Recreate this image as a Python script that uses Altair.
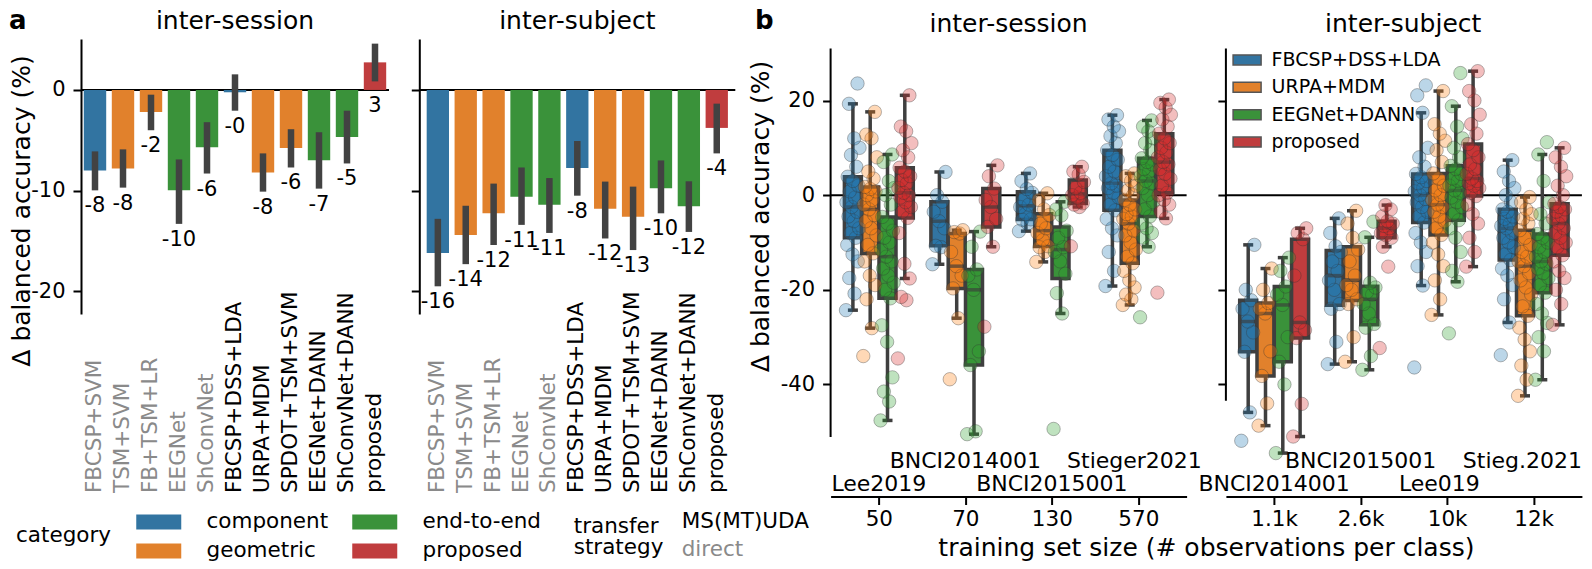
import json
import altair as alt
import pandas as pd

FONT = "DejaVu Sans"
GRAY = "#3f3f3f"

# ---------------- panel a data ----------------
a_methods = ["FBCSP+SVM", "TSM+SVM", "FB+TSM+LR", "EEGNet", "ShConvNet",
             "FBCSP+DSS+LDA", "URPA+MDM", "SPDOT+TSM+SVM", "EEGNet+DANN",
             "ShConvNet+DANN", "proposed"]
a_category = ["component", "geometric", "geometric", "end-to-end", "end-to-end",
              "component", "geometric", "geometric", "end-to-end", "end-to-end",
              "proposed"]
a_strategy = ["direct"] * 5 + ["MS(MT)UDA"] * 6

ses_mean = [-8.0, -7.8, -2.2, -9.95, -5.7, -0.23, -8.2, -5.76, -6.97, -4.67, 2.74]
ses_lo = [-9.97, -9.7, -4.0, -13.3, -8.3, -2.06, -10.1, -7.7, -9.8, -7.3, 0.85]
ses_hi = [-6.1, -5.9, -0.47, -6.9, -3.2, 1.55, -6.3, -3.9, -4.2, -2.06, 4.6]
sub_mean = [-16.2, -14.4, -12.25, -10.6, -11.4, -7.75, -11.8, -12.6, -9.77, -11.55, -3.77]
sub_lo = [-19.5, -17.3, -15.4, -13.4, -14.2, -10.5, -14.75, -15.9, -12.25, -14.1, -6.3]
sub_hi = [-12.8, -11.5, -9.3, -7.7, -8.75, -5.07, -9.1, -9.6, -7.0, -9.07, -1.36]

cat_domain = ["component", "geometric", "end-to-end", "proposed"]
cat_colors = ["#3274a1", "#e1812c", "#3a923a", "#c03d3e"]
strat_domain = ["MS(MT)UDA", "direct"]
strat_colors = ["black", "#8a8a8a"]

# ---------------- panel b data ----------------
b_methods = ["FBCSP+DSS+LDA", "URPA+MDM", "EEGNet+DANN", "proposed"]
b_muted = ["#3274a1", "#e1812c", "#3a923a", "#c03d3e"]
b_bright = ["#1f77b4", "#ff7f0e", "#2ca02c", "#d62728"]

ses_sizes = ["50", "70", "130", "570"]
ses_datasets = ["Lee2019", "BNCI2014001", "BNCI2015001", "Stieger2021"]
ses_label_shift = [0, 0, 0, -0.045]
sub_sizes = ["1.1k", "2.6k", "10k", "12k"]
sub_datasets = ["BNCI2014001", "BNCI2015001", "Lee019", "Stieg.2021"]
sub_label_shift = [0, 0, -0.09, -0.13]

# inter-session, one list per method (FBCSP+DSS+LDA, URPA+MDM, EEGNet+DANN, proposed)
ses_lee2019 = [
    [-24.3, -20.8, -17.5, -14, -12.5, -10.5, -9.0, -8, -7, -5.5, -4.5, -3.5, -2.5, -1.5, -0.5, 0.8, 2, 3, 3.9, 6, 8.5, 10, 12, 19.3, 23.6],
    [-34, -28.1, -22, -19, -17, -14, -12.3, -10.5, -8.5, -7, -5.5, -4.2, -3, -2, -1, 0, 0.8, 1.3, 1.75, 3.5, 5, 8, 12, 12.8, 17.6],
    [-47.6, -43.6, -41.5, -38.5, -31, -27.5, -21.8, -20, -18.5, -17, -15.5, -14, -13, -11.5, -10, -9, -7.5, -6, -4.6, -2, 0, 1.5, 3, 7, 8.6],
    [-34.5, -22.2, -21.5, -17.6, -14.5, -8, -4.8, -3.5, -2.5, -1.5, -0.5, 0, 0.5, 1.5, 2.5, 3.2, 4, 5, 5.8, 8, 9.5, 11, 13.5, 14.5, 21.1],
]
ses_bnci2014 = [
    [-14.6, -11, -10.7, -7, -5.5, -3.5, -1.4, 0, 4.9],
    [-38.9, -26, -19.7, -17, -15, -12, -8.1, -7.8, -7.4],
    [-50.5, -49.9, -35.9, -33, -20, -17, -15.7, -10.9, -7.7],
    [-27.8, -10.9, -6.7, -5, -2.5, -1, 1.4, 4, 6.3],
]
ses_bnci2015 = [
    [-7.6, -6, -5.2, -5.1, -4, -2.5, -2, -1, 0.5, 1.3, 3, 4.6],
    [-14.1, -12, -11, -10.8, -9.5, -8, -7, -6, -4.2, -3, -1, 0.4],
    [-49.4, -25, -20.7, -16.6, -14, -12, -11, -9, -7.5, -4.3, -3, -1.4],
    [-10.8, -2.5, -2, -1.7, -0.5, 0, 0.5, 1.5, 2.8, 4.4, 5, 6.0],
]
ses_stieger = [
    [-19.2, -16, -12, -8.5, -7, -5, -3.2, -2, -0.5, 0.5, 1.5, 2, 2.5, 4, 5, 6, 7.5, 8.5, 9.5, 11, 12.5, 13.5, 14.5, 16, 16.9],
    [-23.2, -22, -21, -19.5, -18, -16, -14.4, -13, -11.5, -10, -8.5, -7.5, -6, -5, -4.5, -4, -3, -2, -1, 0, 1, 2, 3, 4, 4.6],
    [-25.8, -10.9, -9, -8, -7, -6, -4.5, -3, -1.5, 0, 1.5, 2.5, 3, 4, 5, 5.5, 6.5, 7, 7.8, 9.5, 11, 12, 13.5, 14.5, 15.8],
    [-20.6, -4.9, -3.5, -2, -1, 0, 0.5, 2, 3.5, 4.5, 5.5, 6.5, 7, 8, 9, 10, 11, 12, 13, 14.5, 16, 17, 18.5, 19.5, 20.2],
]
# inter-subject
sub_bnci2014 = [
    [-51.9, -45.9, -33.1, -29, -26.7, -24, -22.2, -20, -10.5],
    [-48.7, -44, -38.2, -33, -25, -24, -22.8, -20, -15.5],
    [-54.5, -40, -35.2, -30, -23.2, -21, -19.3, -16, -13.2],
    [-51, -44.1, -30.2, -28.5, -26.9, -17, -9.3, -8, -7],
]
sub_bnci2015 = [
    [-35.7, -31, -24, -23, -20, -18, -16, -14, -12, -10.8, -8, -4.9],
    [-35.2, -30, -23, -22, -20, -19, -17, -14, -11.5, -9, -6, -3.3],
    [-36.9, -34, -28, -27.2, -25, -23, -21, -20.5, -19.5, -18.5, -8.9, -5.6],
    [-32.3, -15.1, -10.9, -9.0, -8.5, -8, -7, -6.5, -6, -5.5, -4.5, -3, -2.1],
]
sub_lee2019 = [
    [-36.4, -19.1, -15, -12, -10, -8, -5.8, -4.5, -3.5, -2.5, -1.5, -0.8, 0, 0.8, 1.5, 2.5, 3, 3.8, 4.5, 6, 8, 10, 17.4, 21.1, 23.2],
    [-25.3, -22, -18, -15, -12.5, -10, -8.4, -7, -5.5, -4.5, -3.5, -2.5, -2, -1, 0, 1, 2, 3.5, 4.6, 7, 9.5, 11.5, 13, 15, 22],
    [-29.2, -18.3, -16, -12, -9, -7, -5.3, -4, -2.5, -1.5, -0.5, 0.5, 1, 2, 3, 3.5, 4.5, 5.5, 6.2, 8, 10, 12, 14.5, 18.8, 25.8],
    [-15.1, -12, -9, -6, -4, -2, -0.2, 0.5, 1.5, 2, 2.5, 3, 3.5, 4.5, 5.5, 6.5, 8, 9.5, 10.8, 13, 15, 17, 20, 22, 26.2],
]
sub_stieger = [
    [-33.8, -26.9, -22, -19, -17, -15.5, -13.7, -12.5, -11, -10, -9, -8, -7, -6.5, -6, -5, -4.5, -3.5, -3, -1.5, 0, 1.5, 3, 5, 7.4],
    [-42.4, -39, -36, -33, -30.5, -28, -25.5, -23.5, -21, -19.5, -18, -16.5, -15, -14, -13, -12, -10.5, -9, -7.4, -6, -5, -4, -3, -1.5, -0.4],
    [-39, -33, -30, -27, -25, -23, -20.6, -19, -17.5, -16.5, -15.5, -14.5, -14, -13, -12, -11, -10, -9, -8.2, -6, -4, -1.5, 3, 8.6, 11.2],
    [-27.4, -23, -20, -17.5, -16, -14, -12.7, -11, -10, -9, -8, -7, -6, -5, -4.5, -3.5, -3, -2.5, -1.8, 0, 2, 4, 6, 8, 10],
]

zdf = pd.DataFrame({"z": [0]})
A_H = 275
B_H = 398
B_DOMAIN = [-51.1, 33.0]


def label_text(text, x, y, size, **kw):
    return alt.Chart(zdf).mark_text(text=text, fontSize=size, color=kw.pop("color", "black"), **kw).encode(
        x=alt.value(x), y=alt.value(y))


def panel_a(mean, lo, hi, plot_w, cell_w, pad_outer, title, title_x, first):
    d = pd.DataFrame({"method": a_methods, "category": a_category,
                      "strategy": a_strategy, "mean": mean, "lo": lo, "hi": hi,
                      "label": [f"{m:.0f}" for m in mean]})
    xs = alt.Scale(domain=a_methods, paddingInner=0.2, paddingOuter=pad_outer, rangeMax=plot_w)
    ys = alt.Scale(domain=[-22.25, 5.06], nice=False, zero=False)
    if first:
        yax = alt.Axis(values=[0, -10, -20], labelExpr="toString(datum.value)",
                       labelPadding=8, title="Δ balanced accuracy (%)",
                       titleX=-60, titleY=171.5, titleBaseline="middle", titleAngle=270)
    else:
        yax = alt.Axis(values=[0, -10, -20], labels=False, title=None)
    X = alt.X("method:N", scale=xs, axis=None)
    base = alt.Chart(d)
    if first:
        leg = alt.Legend(orient="none", legendX=-65, legendY=471.75, title="category",
                         titleOrient="left", columns=2, symbolType="M-3,-1H3V1H-3Z",
                         symbolSize=225, symbolOffset=15, labelOffset=37,
                         columnPadding=20, rowPadding=6.5, labelFontSize=21.5,
                         titleFontSize=21.5, titleFontWeight="normal", titlePadding=21,
                         titleAnchor="middle", titleBaseline="middle", labelLimit=0,
                         symbolStrokeWidth=0, labelColor="black", titleColor="black")
    else:
        leg = None
    zero = alt.Chart(zdf).mark_rule(color="black", strokeWidth=2).encode(
        y=alt.Y("z:Q", scale=ys, axis=yax), x=alt.value(0), x2=alt.value(plot_w))
    bars = base.mark_bar().encode(
        x=X, y=alt.Y("mean:Q", scale=ys, axis=yax), y2=alt.datum(0),
        color=alt.Color("category:N", scale=alt.Scale(domain=cat_domain, range=cat_colors), legend=leg))
    err = base.mark_rule(color="#424242", strokeWidth=6.5).encode(
        x=X, y=alt.Y("lo:Q", scale=ys, axis=yax), y2="hi:Q")
    vals = base.transform_calculate(ly="min(datum.lo, 0)").mark_text(
        baseline="top", dy=5, fontSize=21, color="black").encode(
        x=X, y=alt.Y("ly:Q", scale=ys, axis=yax), text="label:N")
    xl = base.mark_text(angle=270, align="left", baseline="middle", fontSize=21.5).encode(
        x=X, y=alt.value(454), text="method:N",
        fill=alt.Fill("strategy:N", scale=alt.Scale(domain=strat_domain, range=strat_colors), legend=None))
    ttl = label_text(title, title_x, -10, 25, align="center", baseline="alphabetic")
    layers = [zero, bars, err, vals, xl, ttl]
    if first:
        layers += [
            label_text("a", -72, -10, 26, fontWeight="bold", align="left", baseline="alphabetic"),
            label_text("transfer", 492.7, 487.5, 21.5, align="left", baseline="middle"),
            label_text("strategy", 492.7, 509.2, 21.5, align="left", baseline="middle"),
            label_text(strat_domain[0], 600.7, 482.5, 21.5, align="left", baseline="middle",
                       color=strat_colors[0]),
            label_text(strat_domain[1], 600.7, 510.5, 21.5, align="left", baseline="middle",
                       color=strat_colors[1]),
        ]
    return alt.layer(*layers).properties(width=cell_w, height=A_H)


def panel_b(groups, sizes, datasets, shifts, plot_w, cell_w, spine_end, title, title_x, first):
    rows = []
    for gi, grp in enumerate(groups):
        for mi, vals in enumerate(grp):
            for k, v in enumerate(vals):
                rows.append({"gi": gi, "mi": mi, "method": b_methods[mi], "v": v, "k": k})
    d = pd.DataFrame(rows)
    ddf = pd.DataFrame({"gi": list(range(4)), "dataset": datasets, "shift": shifts})
    xs = alt.Scale(domain=[-0.5, 3.5], nice=False, zero=False, rangeMax=plot_w)
    ys = alt.Scale(domain=B_DOMAIN, nice=False, zero=False)
    xax = alt.Axis(values=[0, 1, 2, 3], labelExpr=json.dumps(sizes) + "[datum.value]",
                   offset=59.5, labelPadding=4, labelFontSize=21.5,
                   title="training set size (# observations per class)" if first else None,
                   titleX=375.3, titlePadding=5, grid=False)
    if first:
        yax = alt.Axis(values=[20, 0, -20, -40], labelExpr="toString(datum.value)", labelPadding=8,
                       domain=False, title="Δ balanced accuracy (%)", titleX=-69.7, titleY=177,
                       titleBaseline="middle", titleAngle=270)
    else:
        yax = alt.Axis(values=[20, 0, -20, -40], labels=False, domain=False, title=None)

    base = alt.Chart(d)
    stats = base.transform_joinaggregate(
        q1="q1(v)", q3="q3(v)", med="median(v)", groupby=["gi", "mi"]
    ).transform_calculate(
        lof="datum.q1 - 1.5*(datum.q3 - datum.q1)", hif="datum.q3 + 1.5*(datum.q3 - datum.q1)"
    ).transform_filter(
        "datum.v >= datum.lof && datum.v <= datum.hif"
    ).transform_aggregate(
        wlo="min(v)", whi="max(v)", bq1="max(q1)", bq3="max(q3)", bmed="max(med)",
        groupby=["gi", "mi", "method"]
    ).transform_calculate(pos="datum.gi + (datum.mi - 1.5) * 0.2")
    PX = alt.X("pos:Q", scale=xs, axis=xax)

    if not first:
        leg = alt.Legend(orient="none", legendX=4.7, legendY=11.4, title=None,
                         symbolType="M-2,-0.714H2V0.714H-2Z", symbolSize=196, symbolOffset=7,
                         labelOffset=15, labelFontSize=19, rowPadding=7.4, labelLimit=0,
                         symbolStrokeColor="#555555", symbolStrokeWidth=1.5, labelColor="black")
    else:
        leg = None

    zero = alt.Chart(zdf).mark_rule(color="black", strokeWidth=2).encode(
        y=alt.Y("z:Q", scale=ys, axis=yax), x=alt.value(0), x2=alt.value(plot_w))
    spine = alt.Chart(zdf).mark_rule(color="black", strokeWidth=2).encode(
        x=alt.value(0), y=alt.value(9.5), y2=alt.value(spine_end))
    whisk = stats.mark_rule(color=GRAY, strokeWidth=3.5).encode(
        x=PX, y=alt.Y("wlo:Q", scale=ys, axis=yax), y2="whi:Q")
    box = stats.mark_bar(width=17, stroke=GRAY, strokeWidth=3.5, opacity=1).encode(
        x=PX, y=alt.Y("bq1:Q", scale=ys, axis=yax), y2="bq3:Q",
        color=alt.Color("method:N", scale=alt.Scale(domain=b_methods, range=b_muted), legend=leg))
    med = stats.mark_tick(orient="horizontal", size=17, thickness=3.5, color=GRAY, opacity=1).encode(
        x=PX, y=alt.Y("bmed:Q", scale=ys, axis=yax))
    cap_lo = stats.mark_tick(orient="horizontal", size=10, thickness=3.5, color=GRAY, opacity=1).encode(
        x=PX, y=alt.Y("wlo:Q", scale=ys, axis=yax))
    cap_hi = stats.mark_tick(orient="horizontal", size=10, thickness=3.5, color=GRAY, opacity=1).encode(
        x=PX, y=alt.Y("whi:Q", scale=ys, axis=yax))
    pts = base.transform_calculate(
        px="datum.gi + (datum.mi - 1.5) * 0.2 + ((datum.k * 0.618034) % 1 - 0.5) * 0.16"
    ).mark_circle(size=180, opacity=1, fillOpacity=0.3, stroke="#333333", strokeOpacity=0.35,
                  strokeWidth=1).encode(
        x=alt.X("px:Q", scale=xs, axis=xax), y=alt.Y("v:Q", scale=ys, axis=yax),
        fill=alt.Fill("method:N", scale=alt.Scale(domain=b_methods, range=b_bright), legend=None))
    lbl = alt.Chart(ddf).transform_calculate(lx="datum.gi + datum.shift")
    lab_lo = lbl.transform_filter("datum.gi % 2 == 0").mark_text(
        fontSize=22, baseline="middle", color="black").encode(
        x=alt.X("lx:Q", scale=xs, axis=xax), y=alt.value(444.5), text="dataset:N")
    lab_hi = lbl.transform_filter("datum.gi % 2 == 1").mark_text(
        fontSize=22, baseline="middle", color="black").encode(
        x=alt.X("lx:Q", scale=xs, axis=xax), y=alt.value(421.5), text="dataset:N")
    ttl = label_text(title, title_x, -6.8, 25, align="center", baseline="alphabetic")
    layers = [zero, spine, whisk, box, med, cap_lo, cap_hi, pts, lab_lo, lab_hi, ttl]
    if first:
        layers.append(label_text("b", -75.7, -10, 26, fontWeight="bold", align="left",
                                 baseline="alphabetic"))
    return alt.layer(*layers).properties(width=cell_w, height=B_H)


aL = panel_a(ses_mean, ses_lo, ses_hi, 308, 308, 0.1, "inter-session", 154, True)
aR = panel_a(sub_mean, sub_lo, sub_hi, 316, 380.4, 0.265, "inter-subject", 158, False)
bL = panel_b([ses_lee2019, ses_bnci2014, ses_bnci2015, ses_stieger], ses_sizes, ses_datasets,
             ses_label_shift, 356, 364.3, B_H, "inter-session", 178, True)
bR = panel_b([sub_bnci2014, sub_bnci2015, sub_lee2019, sub_stieger], sub_sizes, sub_datasets,
             sub_label_shift, 356, 356, 361.8, "inter-subject", 177.3, False)

chart = alt.hconcat(aL, aR, bL, bR, spacing=30.3, bounds="flush").resolve_scale(
    color="independent", fill="independent", x="independent", y="independent"
).properties(padding=0).configure(font=FONT).configure_view(stroke=None).configure_axis(
    domainColor="black", domainWidth=2, tickColor="black", tickWidth=2, tickSize=8,
    labelFontSize=21, labelColor="black", titleFontSize=25, titleFontWeight="normal",
    titleColor="black", grid=False, labelFont=FONT, titleFont=FONT
).configure_legend(labelFont=FONT, titleFont=FONT)

chart.save("out.html", embed_options={"renderer": "svg", "actions": False})
